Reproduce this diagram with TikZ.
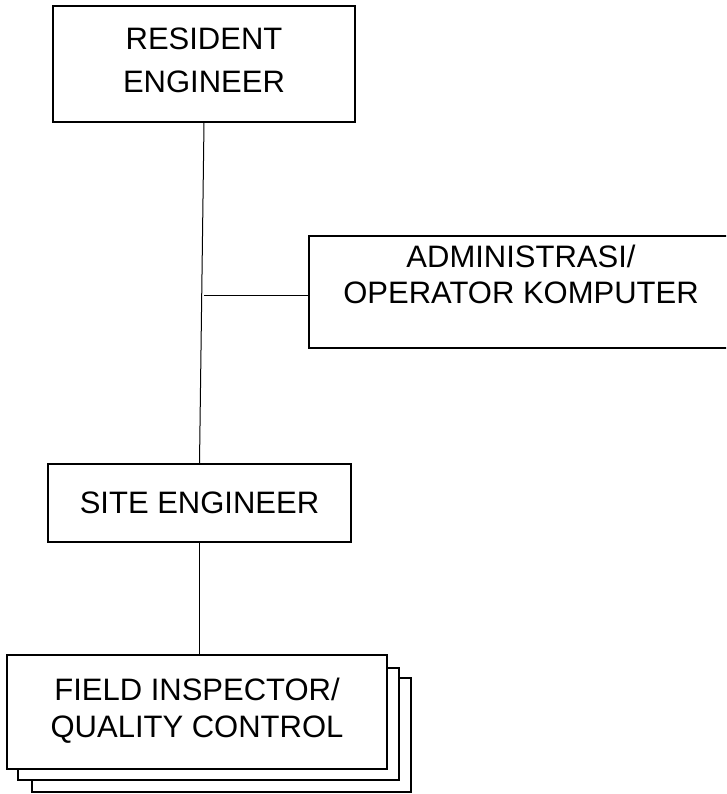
\documentclass[tikz,border=0pt]{standalone}
\usepackage{fontspec}
\setmainfont{Liberation Sans}
\begin{document}
\begin{tikzpicture}[x=1pt,y=-1pt,
  orgbox/.style={draw=black,line width=1.3pt,fill=white,rectangle,inner sep=0pt,align=center},
  link/.style={draw=black,line width=1pt}]
\clip (0,0) rectangle (726,794);
% top
\node[orgbox,minimum width=302pt,minimum height=116pt,font=\fontsize{31}{43}\selectfont] (re) at (204,64)
  {RESIDENT\\ENGINEER\rule[-8pt]{0pt}{8pt}};
% admin (right edge cut by the page)
\node[orgbox,minimum width=424pt,minimum height=112pt,font=\fontsize{31}{36}\selectfont] (ad) at (521,292)
  {ADMINISTRASI/\\OPERATOR KOMPUTER\rule[-36pt]{0pt}{36pt}};
% site
\node[orgbox,minimum width=303pt,minimum height=78pt,font=\fontsize{31}{37}\selectfont] (se) at (199.5,503)
  {SITE ENGINEER};
% field stack
\node[orgbox,minimum width=379pt,minimum height=114pt] (fi3) at (221.5,735) {};
\node[orgbox,minimum width=381pt,minimum height=112pt] (fi2) at (208.5,724) {};
\node[orgbox,minimum width=380pt,minimum height=114pt,font=\fontsize{31}{37}\selectfont] (fi) at (197,712)
  {FIELD INSPECTOR/\\QUALITY CONTROL\rule[-8pt]{0pt}{8pt}};
% connectors
\draw[link] (re.south) -- (se.north);
\draw[link] ([yshift=-3pt]ad.west) -- ([yshift=-3pt]ad.west -| re.south);
\draw[link] (se.south) -- (se.south |- fi.north);
\end{tikzpicture}
\end{document}
